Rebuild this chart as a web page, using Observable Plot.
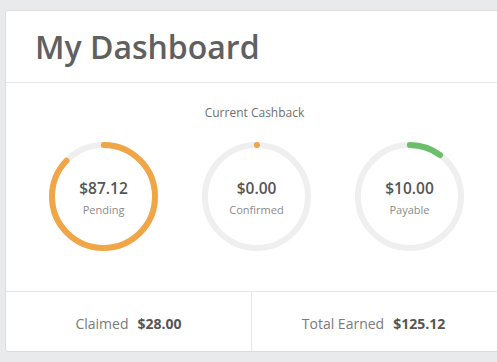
<!DOCTYPE html>
<html>
<head>
<meta charset="utf-8">
<script src="https://cdn.jsdelivr.net/npm/d3@7"></script>
<script src="https://cdn.jsdelivr.net/npm/@observablehq/plot@0.6"></script>
<style>
  html, body { margin: 0; padding: 0; background: #e9eaec; width: 497px; height: 362px; overflow: hidden; font-family: "Open Sans", sans-serif; }
  #card { position: absolute; left: 5px; top: 10px; width: 500px; height: 342px; background: #fff; border: 1px solid #dcdddf; border-radius: 3px; box-sizing: border-box; overflow: hidden; }
  #head { position: absolute; left: 0; top: 0; width: 100%; height: 71px; border-bottom: 1px solid #e6e6e6; }
  #title { position: absolute; left: 29px; top: 14px; margin: 0; font-size: 32px; font-weight: 600; color: #606060; letter-spacing: 0; }
  #sub { position: absolute; left: 0; width: 497px; top: 93px; text-align: center; font-size: 12px; color: #6f6f6f; }
  #chart { position: absolute; left: -6px; top: 110px; }
  #foot { position: absolute; left: 0; top: 280px; width: 100%; height: 62px; border-top: 1px solid #e6e6e6; }
  .cell { position: absolute; top: 0; height: 62px; width: 245px; display: flex; align-items: center; justify-content: center; font-size: 14px; }
  .cell .lab { color: #7a7a7a; margin-right: 9px; }
  .cell .val { color: #555; font-weight: 700; font-size: 14px; }
  #c1 { left: 0; border-right: 1px solid #e6e6e6; }
  #c2 { left: 245px; }
</style>
</head>
<body>
<div id="card">
  <div id="head"><h1 id="title">My Dashboard</h1></div>
  <div id="sub">Current Cashback</div>
  <div id="chart"></div>
  <div id="foot">
    <div class="cell" id="c1"><span class="lab"></span><span class="val"></span></div>
    <div class="cell" id="c2"><span class="lab"></span><span class="val"></span></div>
  </div>
</div>
<script>
// Data
const categories = ["Pending", "Confirmed", "Payable"];
const amounts = [87.12, 0.00, 10.00];
const maxAmount = 100;
const colors = ["#f0a646", "#f0a646", "#6cbf6a"];
const totalLabels = ["Claimed", "Total Earned"];
const totalValues = [28.00, 125.12];

const fmt = d3.format("$,.2f");
const table = categories.map((c, i) => ({category: c, amount: amounts[i], color: colors[i]}));

const R = 51.5;
const C = 2 * Math.PI * R;

const arcMarks = table.map(d => {
  const a = (d.amount / maxAmount) * C;
  return Plot.dot([d], {
    x: "category", y: () => 0, r: R,
    fill: "none", stroke: d.color, strokeWidth: 6, strokeLinecap: "round",
    strokeDasharray: `${a} ${C - a}`,
    strokeDashoffset: C / 4
  });
});

const chart = Plot.plot({
  width: 497, height: 170,
  margin: 0,
  x: {type: "point", domain: categories, range: [103, 409], padding: 0, axis: null},
  y: {domain: [-1, 1], range: [75, 75], axis: null},
  marks: [
    Plot.dot(table, {x: "category", y: () => 0, r: R, fill: "none", stroke: "#efefef", strokeWidth: 6}),
    ...arcMarks,
    Plot.text(table, {x: "category", y: () => 0, text: d => fmt(d.amount), dy: -7, fontSize: 15.5, fontWeight: 600, fill: "#555", fontFamily: "Open Sans"}),
    Plot.text(table, {x: "category", y: () => 0, text: "category", dy: 14, fontSize: 11, fill: "#8a8a8a", fontFamily: "Open Sans"})
  ]
});
document.getElementById("chart").appendChild(chart);

["c1", "c2"].forEach((id, i) => {
  const el = document.getElementById(id);
  el.querySelector(".lab").textContent = totalLabels[i];
  el.querySelector(".val").textContent = fmt(totalValues[i]);
});
</script>
</body>
</html>
